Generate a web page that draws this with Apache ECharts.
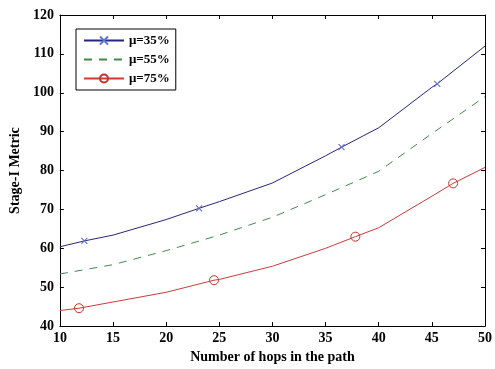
<!DOCTYPE html>
<html>
<head>
<meta charset="utf-8">
<script src="https://cdn.jsdelivr.net/npm/echarts@6/dist/echarts.min.js"></script>
<style>
html,body{margin:0;padding:0;background:#fff;}
#c{width:495px;height:369px;}
</style>
</head>
<body>
<div id="c"></div>
<script>
// Data
var hops = [10, 15, 20, 25, 30, 35, 40, 45, 50];
var mu35 = [60.4, 63.4, 67.4, 72.0, 76.8, 83.8, 91.0, 101.4, 112.0];
var mu55 = [53.4, 55.8, 59.4, 63.4, 68.0, 73.8, 79.8, 89.5, 99.0];
var mu75 = [44.0, 46.2, 48.7, 52.0, 55.4, 60.0, 65.3, 73.4, 80.8];
// marker positions along the curves
var mu35MarkX = [12.3, 23.1, 36.5, 45.5];
var mu35MarkY = [61.9, 70.3, 86.0, 102.3];
var mu75MarkX = [11.8, 24.5, 37.8, 47.0];
var mu75MarkY = [44.6, 51.8, 63.0, 76.7];
var seriesNames = ['\u03bc=35%', '\u03bc=55%', '\u03bc=75%'];
var xTicks = [10, 15, 20, 25, 30, 35, 40, 45, 50];
var yTicks = [40, 50, 60, 70, 80, 90, 100, 110, 120];

function buildData(xs, ys, mx, my) {
  var pts = [];
  for (var i = 0; i < xs.length; i++) pts.push({value: [xs[i], ys[i]], symbol: 'none'});
  if (mx) for (var j = 0; j < mx.length; j++) pts.push({value: [mx[j], my[j]]});
  pts.sort(function (a, b) { return a.value[0] - b.value[0]; });
  return pts;
}

var font = 'Liberation Serif';
var chart = echarts.init(document.getElementById('c'), null, {renderer: 'canvas'});
var axisLine = {show: true, lineStyle: {color: '#000', width: 1}};
var tickIn = {show: true, inside: true, length: 4, lineStyle: {color: '#000'}};
chart.setOption({
  animation: false,
  backgroundColor: '#fff',
  grid: {left: 59, right: 8, top: 15, bottom: 36, containLabel: false},
  legend: {
    left: 76, top: 29, orient: 'vertical',
    backgroundColor: '#fff', borderColor: '#000', borderWidth: 1,
    padding: [5, 6, 5, 7], itemGap: 6, itemWidth: 40, itemHeight: 10,
    textStyle: {fontFamily: font, fontWeight: 'bold', fontSize: 13, color: '#000'},
    data: seriesNames
  },
  xAxis: [{
    type: 'value', min: 10, max: 50, interval: 5,
    name: 'Number of hops in the path', nameLocation: 'middle', nameGap: 22,
    nameTextStyle: {fontFamily: font, fontWeight: 'bold', fontSize: 14, color: '#000'},
    axisLine: axisLine, axisTick: tickIn, splitLine: {show: false},
    axisLabel: {margin: 5, fontFamily: font, fontWeight: 'bold', fontSize: 14, color: '#000'}
  }, {
    type: 'value', position: 'top', min: 10, max: 50, interval: 5,
    axisLine: axisLine, axisTick: tickIn, axisLabel: {show: false}, splitLine: {show: false}
  }],
  yAxis: [{
    type: 'value', min: 40, max: 120, interval: 10,
    name: 'Stage-I Metric', nameLocation: 'middle', nameGap: 33,
    nameTextStyle: {fontFamily: font, fontWeight: 'bold', fontSize: 14, color: '#000'},
    axisLine: axisLine, axisTick: tickIn, splitLine: {show: false},
    axisLabel: {margin: 6, fontFamily: font, fontWeight: 'bold', fontSize: 14, color: '#000'}
  }, {
    type: 'value', position: 'right', min: 40, max: 120, interval: 10,
    axisLine: axisLine, axisTick: tickIn, axisLabel: {show: false}, splitLine: {show: false}
  }],
  series: [{
    name: seriesNames[0], type: 'line',
    data: buildData(hops, mu35, mu35MarkX, mu35MarkY),
    symbol: 'path://M0,0L10,10M10,0L0,10', symbolSize: 6, showAllSymbol: true,
    lineStyle: {color: '#26267a', width: 1},
    itemStyle: {color: 'rgba(0,0,0,0)', borderColor: '#6272c8', borderWidth: 1.1}
  }, {
    name: seriesNames[1], type: 'line',
    data: buildData(hops, mu55),
    symbol: 'none',
    lineStyle: {color: '#3f8a4a', width: 1, type: [8, 7]},
    itemStyle: {color: 'rgba(0,0,0,0)', borderColor: 'rgba(0,0,0,0)'}
  }, {
    name: seriesNames[2], type: 'line',
    data: buildData(hops, mu75, mu75MarkX, mu75MarkY),
    symbol: 'circle', symbolSize: 9, showAllSymbol: true,
    lineStyle: {color: '#cc3a3a', width: 1},
    itemStyle: {color: 'rgba(0,0,0,0)', borderColor: '#c83030', borderWidth: 1}
  }]
});
</script>
</body>
</html>
